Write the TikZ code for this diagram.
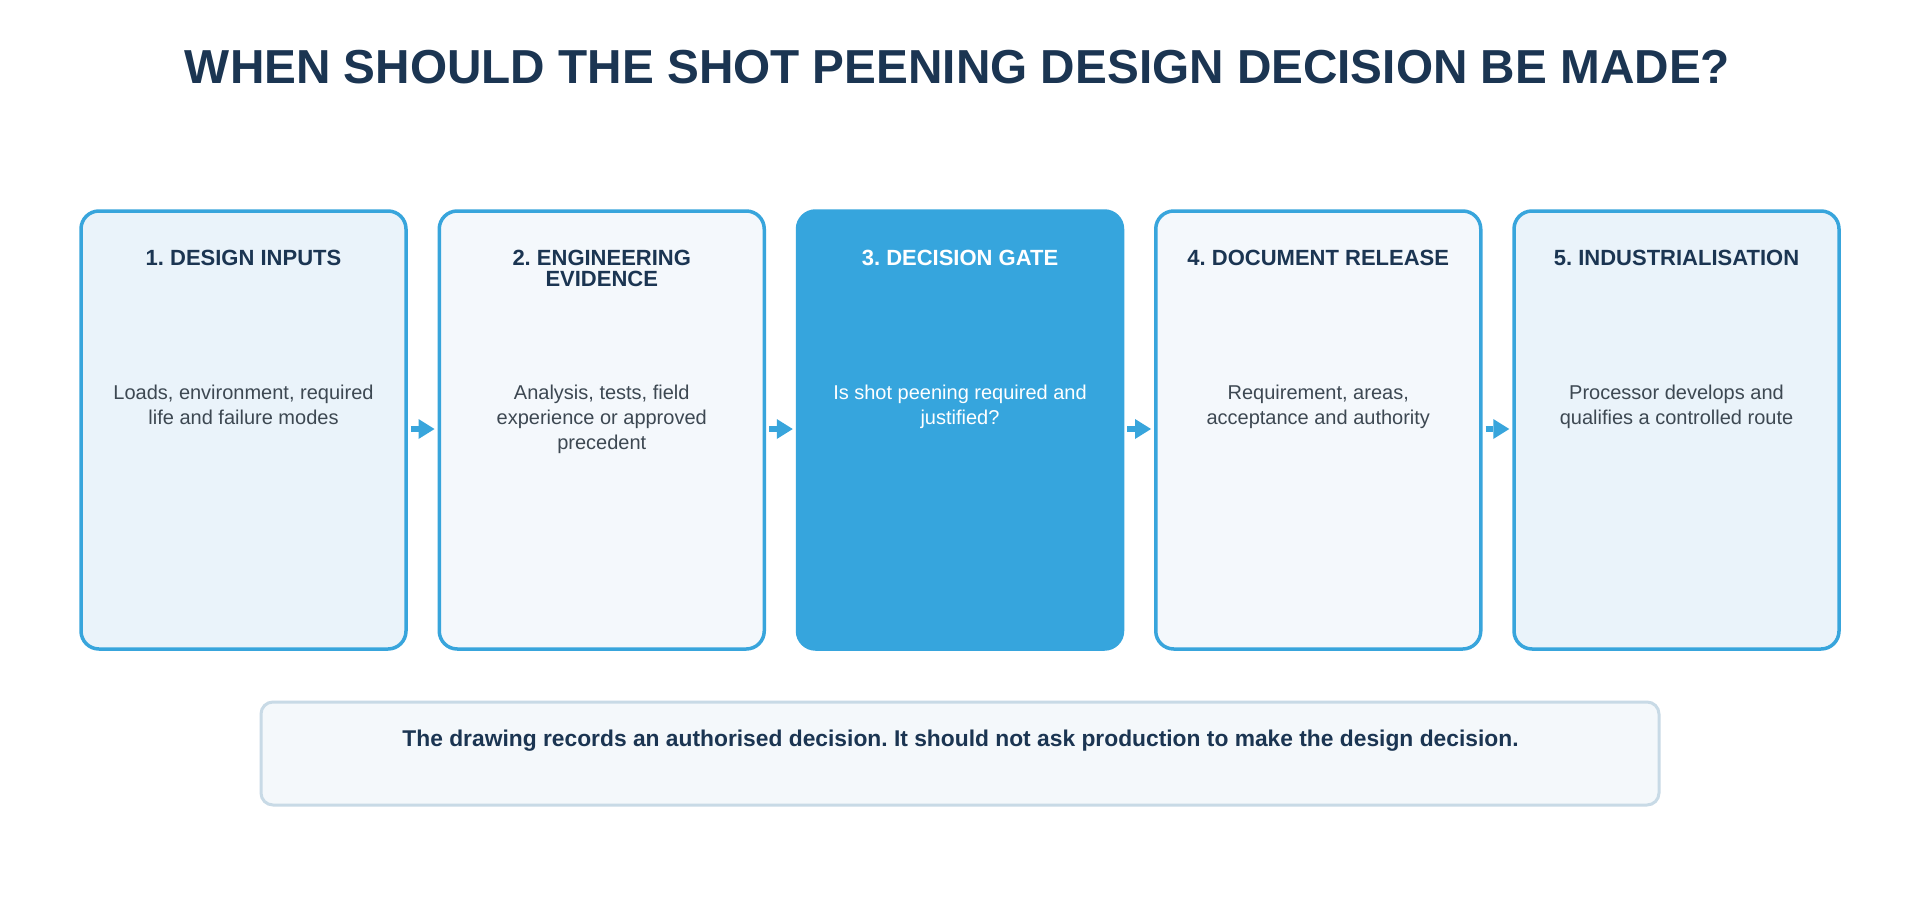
\documentclass[tikz,border=0pt]{standalone}
\usepackage{fontspec}
\setmainfont{Liberation Sans}
\usetikzlibrary{arrows.meta}
\frenchspacing
\definecolor{navy}{HTML}{1B3552}
\definecolor{blueline}{HTML}{38A5DC}
\definecolor{gatefill}{HTML}{36A5DD}
\definecolor{fillA}{HTML}{EAF3FA}
\definecolor{fillB}{HTML}{F4F8FC}
\definecolor{bodygray}{HTML}{3D4852}
\definecolor{noteline}{HTML}{C8DAE6}
\definecolor{notefill}{HTML}{F4F8FB}
\tikzset{
  stagebox/.style={draw=blueline, line width=3.5pt, rounded corners=18pt,
    minimum width=325pt, minimum height=438pt, inner sep=0pt},
  headtext/.style={text=navy, font=\bfseries\fontsize{22}{21}\selectfont,
    align=center, anchor=north, inner sep=0pt},
  bodytext/.style={text=bodygray, font=\fontsize{20}{25}\selectfont,
    align=center, anchor=north, inner sep=0pt},
  flowarrow/.style={draw=blueline, line width=6pt,
    -{Triangle[length=16pt,width=20pt,line width=0pt]}, shorten <=3pt, shorten >=3pt},
}
\begin{document}
\begin{tikzpicture}[x=1pt,y=-1pt]
\useasboundingbox[fill=white] (0,0) rectangle (1920,900);

\node[text=navy, font=\bfseries\fontsize{47.7}{48}\selectfont, inner sep=0pt] (title) at (957.5,67)
  {WHEN SHOULD THE SHOT PEENING DESIGN DECISION BE MADE?};

\node[stagebox, fill=fillA] (b1) at (243.5,430) {};
\node[stagebox, fill=fillB] (b2) at (601.75,430) {};
\node[stagebox, fill=gatefill, draw=gatefill] (b3) at (960,430) {};
\node[stagebox, fill=fillB] (b4) at (1318.25,430) {};
\node[stagebox, fill=fillA] (b5) at (1676.5,430) {};

\node[headtext] (h1) at (243.5,250) {1. DESIGN INPUTS};
\node[headtext] (h2) at (601.75,250) {2. ENGINEERING\\EVIDENCE};
\node[headtext, text=white] (h3) at (960,250) {3. DECISION GATE};
\node[headtext] (h4) at (1318.25,250) {4. DOCUMENT RELEASE};
\node[headtext] (h5) at (1676.5,250) {5. INDUSTRIALISATION};

\node[bodytext] (t1) at (243.5,385) {Loads, environment, required\\life and failure modes};
\node[bodytext] (t2) at (601.75,385) {Analysis, tests, field\\experience or approved\\precedent};
\node[bodytext, text=white] (t3) at (960,385) {Is shot peening required and\\justified?};
\node[bodytext] (t4) at (1318.25,385) {Requirement, areas,\\acceptance and authority};
\node[bodytext] (t5) at (1676.5,385) {Processor develops and\\qualifies a controlled route};

\draw[flowarrow] ([yshift=1pt]b1.east) -- ([yshift=1pt]b2.west);
\draw[flowarrow] ([yshift=1pt]b2.east) -- ([yshift=1pt]b3.west);
\draw[flowarrow] ([yshift=1pt]b3.east) -- ([yshift=1pt]b4.west);
\draw[flowarrow] ([yshift=1pt]b4.east) -- ([yshift=1pt]b5.west);

\node[draw=noteline, fill=notefill, line width=3pt, rounded corners=12pt,
  minimum width=1398pt, minimum height=103pt, inner sep=0pt] (note) at (960,753.5) {};
\node[text=navy, font=\bfseries\fontsize{22.8}{23}\selectfont, inner sep=0pt] (notetext) at (960.5,741)
  {The drawing records an authorised decision. It should not ask production to make the design decision.};
\end{tikzpicture}
\end{document}
